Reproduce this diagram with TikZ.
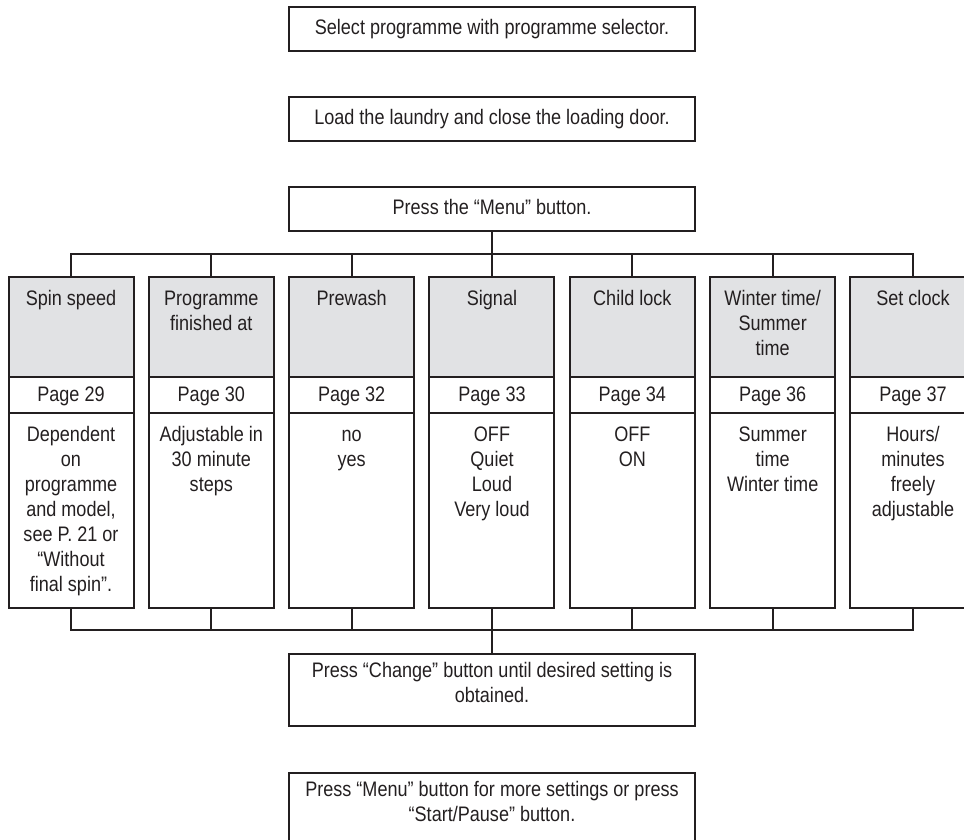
\documentclass[tikz,border=0pt]{standalone}
\usepackage{fontspec}
\setmainfont[FakeStretch=0.86]{Liberation Sans}
\usepackage{xcolor}
\definecolor{inkline}{RGB}{35,31,32}
\definecolor{headgray}{RGB}{225,226,228}
\newcommand{\toptext}[4]{\parbox[c][#1][t]{#2}{\centering\rule{0pt}{#3}#4}}
\tikzset{
  stepbox/.style={draw=inkline, line width=2pt, minimum width=406pt, minimum height=44pt,
    inner sep=0pt, outer sep=0pt, text height=15pt, text depth=4pt},
  notebox/.style={draw=inkline, line width=2pt, minimum width=406pt,
    inner sep=0pt, outer sep=0pt, anchor=north},
  headbox/.style={draw=inkline, fill=headgray, line width=2pt, minimum width=125pt,
    inner sep=0pt, outer sep=0pt, anchor=north},
  pagebox/.style={draw=inkline, line width=2pt, minimum width=125pt, minimum height=36pt,
    inner sep=0pt, outer sep=0pt, anchor=north, text height=15pt, text depth=3pt},
  bodybox/.style={draw=inkline, line width=2pt, minimum width=125pt,
    inner sep=0pt, outer sep=0pt, anchor=north},
  wire/.style={draw=inkline, line width=2pt}
}

\begin{document}
\begin{tikzpicture}[x=1pt, y=-1pt, font=\fontsize{21}{25}\selectfont, text=inkline]
\useasboundingbox (0,0) rectangle (964,839);

% steps before the menu
\node[stepbox] (select) at (492,29) {Select programme with programme selector.};
\node[stepbox] (load) at (492,119) {Load the laundry and close the loading door.};
\node[stepbox] (menu) at (492,208.5) {Press the “Menu” button.};

% one column per menu item
\foreach \i/\colname/\colpage/\colvals in {
    1/{Spin speed}/29/{Dependent\\on\\programme\\and model,\\see P. 21 or\\“Without\\final spin”.},
    2/{Programme\\finished at}/30/{Adjustable in\\30 minute\\steps},
    3/{Prewash}/32/{no\\yes},
    4/{Signal}/33/{OFF\\Quiet\\Loud\\Very loud},
    5/{Child lock}/34/{OFF\\ON},
    6/{Winter time/\\Summer\\time}/36/{Summer\\time\\Winter time},
    7/{Set clock}/37/{Hours/\\minutes\\freely\\adjustable}}{
  \node[headbox] (head\i) at ({71+140.33*(\i-1)},277) {\toptext{100pt}{121pt}{28pt}{\colname}};
  \node[pagebox] (page\i) at (head\i.south) {Page \colpage};
  \node[bodybox] (body\i) at (page\i.south) {\toptext{195pt}{121pt}{28pt}{\colvals}};
}

% upper bus
\coordinate (topbus) at (492,254);
\draw[wire] (menu.south) -- (topbus);
\draw[wire] (head1.north) |- (topbus) -| (head7.north);
\foreach \i in {2,...,6} \draw[wire] (head\i.north) -- (head\i.north |- topbus);

% lower bus
\coordinate (botbus) at (492,630);
\draw[wire] (body1.south) |- (botbus) -| (body7.south);
\foreach \i in {2,...,6} \draw[wire] (body\i.south) -- (body\i.south |- botbus);

% steps after the menu
\node[notebox] (change) at (492,654) {\toptext{72pt}{400pt}{23pt}{Press “Change” button until desired setting is\\obtained.}};
\draw[wire] (botbus) -- (change.north);
\node[notebox] (final) at (492,773) {\toptext{80pt}{400pt}{23pt}{Press “Menu” button for more settings or press\\“Start/Pause” button.}};
\end{tikzpicture}
\end{document}
